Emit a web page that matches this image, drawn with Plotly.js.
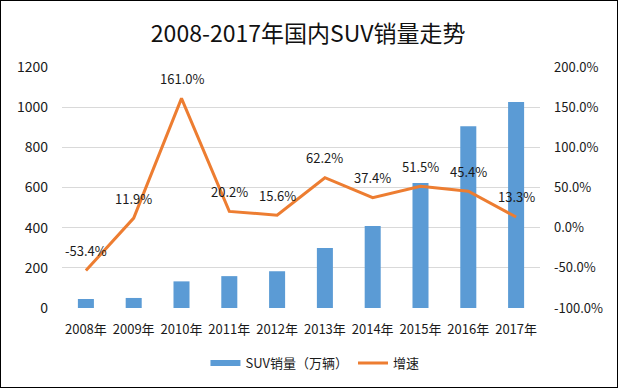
<!DOCTYPE html>
<html>
<head>
<meta charset="utf-8">
<script src="https://cdn.plot.ly/plotly-3.0.1.min.js"></script>
<style>
  html, body { margin: 0; padding: 0; background: #fff; }
  #wrap { position: relative; width: 620px; height: 389px; }
  #chart { width: 620px; height: 389px; }
  #frame { position: absolute; left: 0; top: 0; width: 618px; height: 388px; box-sizing: border-box; border: 1.5px solid #000; pointer-events: none; }
</style>
</head>
<body>
<div id="wrap">
  <div id="chart"></div>
  <div id="frame"></div>
</div>
<script>
const categories = ["2008年","2009年","2010年","2011年","2012年","2013年","2014年","2015年","2016年","2017年"];
const sales = [44.7, 50.0, 132.6, 158.7, 183.0, 298.9, 407.8, 622.0, 904.7, 1025.3];
const growth = [-0.534, 0.119, 1.610, 0.202, 0.156, 0.622, 0.374, 0.515, 0.454, 0.133];
const growthLabels = ["-53.4%","11.9%","161.0%","20.2%","15.6%","62.2%","37.4%","51.5%","45.4%","13.3%"];
const leftTicks = [0, 200, 400, 600, 800, 1000, 1200];
const rightTicks = [-1, -0.5, 0, 0.5, 1, 1.5, 2];
const rightTickLabels = ["-100.0%","-50.0%","0.0%","50.0%","100.0%","150.0%","200.0%"];

const FONT = '"Noto Sans CJK SC", "Noto Sans", sans-serif';
const BLUE = '#5B9BD5';
const ORANGE = '#ED7D31';

const traces = [
  {
    type: 'bar', name: 'SUV销量（万辆）', x: categories, y: sales,
    marker: { color: BLUE }, yaxis: 'y', hoverinfo: 'skip', showlegend: false
  },
  {
    // legend entry only: wide rectangle swatch like the reference
    type: 'scatter', mode: 'lines', name: 'SUV销量（万辆）', x: [categories[0]], y: [null],
    line: { color: BLUE, width: 6 }, yaxis: 'y', hoverinfo: 'skip', showlegend: true
  },
  {
    type: 'scatter', mode: 'lines', name: '增速', x: categories, y: growth,
    line: { color: ORANGE, width: 3 }, yaxis: 'y2', hoverinfo: 'skip'
  }
];

const annotations = categories.map((c, i) => ({
  x: c, y: growth[i], xref: 'x', yref: 'y2', text: growthLabels[i],
  showarrow: false, yshift: 20, yanchor: 'middle', xanchor: 'center',
  font: { family: FONT, size: 13, color: '#1a1a1a' }
}));

const layout = {
  width: 620, height: 389,
  margin: { l: 62, r: 80, t: 67, b: 81 },
  paper_bgcolor: '#fff', plot_bgcolor: '#fff',
  font: { family: FONT, size: 13, color: '#1a1a1a' },
  title: { text: '2008-2017年国内SUV销量走势', x: 0.497, xanchor: 'center', y: 0.913, yanchor: 'middle',
           font: { family: FONT, size: 23, color: '#111' } },
  showlegend: true,
  legend: { orientation: 'h', xref: 'container', x: 0.508, xanchor: 'center', yref: 'container', y: 0.067, yanchor: 'middle',
            font: { family: FONT, size: 13, color: '#1a1a1a' }, itemwidth: 30, traceorder: 'normal' },
  bargap: 0.665,
  xaxis: { type: 'category', showgrid: false, showline: false, ticks: '', zeroline: false,
           tickfont: { family: FONT, size: 13, color: '#1a1a1a' }, ticklabelstandoff: 12 },
  yaxis: { range: [0, 1200], tickvals: leftTicks, ticktext: leftTicks.map(String),
           showgrid: true, gridcolor: '#d9d9d9', gridwidth: 1, zeroline: false, showline: false, ticks: '',
           ticklabelstandoff: 13, tickfont: { family: FONT, size: 14, color: '#1a1a1a' } },
  yaxis2: { range: [-1, 2], overlaying: 'y', side: 'right', tickvals: rightTicks, ticktext: rightTickLabels,
            showgrid: false, zeroline: false, showline: false, ticks: '', ticklabelstandoff: 13,
            tickfont: { family: FONT, size: 13, color: '#1a1a1a' } },
  annotations: annotations
};

Plotly.newPlot('chart', traces, layout, { staticPlot: true, displayModeBar: false });
</script>
</body>
</html>
